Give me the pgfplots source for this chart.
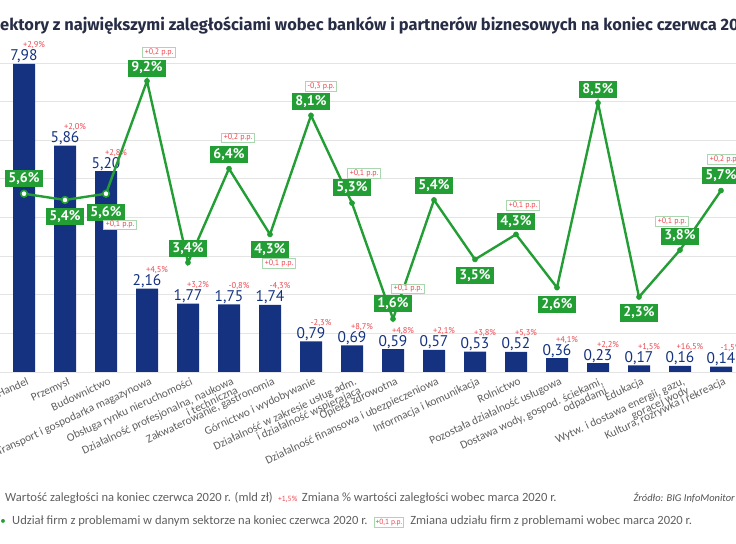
\documentclass[border=0pt]{standalone}
\usepackage{fontspec}
\setmainfont{Carlito}
\newfontfamily\numfont{PT Sans}
\newfontfamily\titlefont{Fira Sans}
\usepackage{pgfplots}
\pgfplotsset{compat=1.18}
\usepackage{pgfplotstable}

\definecolor{navy}{RGB}{20,50,128}
\definecolor{lgreen}{RGB}{34,158,52}
\definecolor{redann}{RGB}{236,72,80}
\definecolor{gridc}{RGB}{228,228,228}
\definecolor{ticktxt}{RGB}{95,95,95}
\definecolor{titlec}{RGB}{40,45,70}
\definecolor{boxborder}{RGB}{170,215,175}

\pgfplotstableread{
x val pct
0 7.98 +2,9
1 5.86 +2,0
2 5.20 +2,8
3 2.16 +4,5
4 1.77 +3,2
5 1.75 -0,8
6 1.74 -4,3
7 0.79 -2,3
8 0.69 +8,7
9 0.59 +4,8
10 0.57 +2,1
11 0.53 +3,8
12 0.52 +5,3
13 0.36 +4,1
14 0.23 +2,2
15 0.17 +1,5
16 0.16 +16,5
17 0.14 -1,5
}\bars

\pgfplotstableread{
x v dy
0 5.6 15
1 5.4 -17
2 5.6 -19
3 9.2 13
4 3.4 14
5 6.4 14
6 4.3 -15
7 8.1 14
8 5.3 16
9 1.6 15
10 5.4 14
11 3.5 -16
12 4.3 13
13 2.6 -17
14 8.5 13
15 2.3 -16
16 3.8 14
17 5.7 15
}\linedata

\pgfplotstableread{
x v dx dy lbl
2 5.6 14 -31 +0,1
3 9.2 12 29 +0,2
5 6.4 9 31 +0,2
6 4.3 9 -29 +0,1
7 8.1 10 29 -0,3
8 5.3 12 30 +0,1
9 1.6 15 30 +0,1
12 4.3 7 29 +0,1
16 3.8 -8 29 +0,1
17 5.7 3 31 +0,2
}\ppdata

\begin{document}
\begin{tikzpicture}
\begin{axis}[
  at={(0bp,172bp)}, anchor=south west,
  scale only axis, width=736bp, height=309bp,
  xmin=-0.5854, xmax=17.366, ymin=0, ymax=8,
  clip=false,
  axis line style={draw=none},
  ytick={0,1,...,8}, yticklabels={},
  ymajorgrids, grid style={gridc, line width=0.8bp},
  major tick length=0pt,
  xtick={0,...,17},
  xticklabels={{Handel},{Przemysł},{Budownictwo},{Transport i gospodarka magazynowa},{Obsługa rynku nieruchomości},{Działalność profesjonalna, naukowa\\ i techniczna},{Zakwaterowanie, gastronomia},{Górnictwo i wydobywanie},{Działalność w zakresie usług adm.\\ i działalność wspierająca},{Opieka zdrowotna},{Działalność finansowa i ubezpieczeniowa},{Informacja i komunikacja},{Rolnictwo},{Pozostała działalność usługowa},{Dostawa wody, gospod. ściekami,\\ odpadami},{Edukacja},{Wytw. i dostawa energii, gazu,\\ gorącej wody},{Kultura, rozrywka i rekreacja}},
  xticklabel style={rotate=25, anchor=north east, align=right, inner sep=1bp, yshift=-4bp, xshift=1bp,
    font=\fontsize{11.5}{10}\selectfont, text=ticktxt},
]
\addplot[ybar, bar width=22bp, fill=navy, draw=none,
  nodes near coords={\pgfmathprintnumber[fixed, fixed zerofill, precision=2, use comma, assume math mode=true]{\pgfplotspointmeta}},
  point meta=y,
  every node near coord/.append style={anchor=base, yshift=3bp, text=navy, inner sep=0pt,
    font=\numfont\fontsize{15.5}{15.5}\selectfont}]
  table[x=x, y=val]{\bars};
\addplot[draw=none, mark=none,
  nodes near coords={\pgfplotspointmeta\%},
  point meta=explicit symbolic,
  every node near coord/.append style={anchor=base, xshift=10bp, yshift=16bp, text=redann, inner sep=0pt,
    font=\numfont\fontsize{8.5}{8.5}\selectfont}]
  table[x=x, y=val, meta=pct]{\bars};
\end{axis}

\begin{axis}[
  at={(0bp,172bp)}, anchor=south west,
  scale only axis, width=736bp, height=309bp,
  xmin=-0.5854, xmax=17.366, ymin=-0.096, ymax=9.776,
  clip=false, hide axis,
]
\addplot[lgreen, line width=2.4bp, mark=*, mark size=2.6bp,
  mark options={solid, fill=lgreen, line width=0.4bp},
  nodes near coords={\pgfmathprintnumber[fixed, fixed zerofill, precision=1, use comma, assume math mode=true]{\pgfplotspointmeta}\%},
  point meta=y,
  visualization depends on={\thisrow{dy}\as\ddy},
  every node near coord/.append style={anchor=center, yshift=\ddy bp, fill=lgreen, text=white,
    inner xsep=3bp, inner ysep=2.5bp, font=\numfont\bfseries\fontsize{14}{14}\selectfont}]
  table[x=x, y=v]{\linedata};
\addplot[only marks, mark=*, mark size=3.3bp, restrict x to domain=0:2,
  mark options={fill=white, draw=lgreen, line width=1.6bp}]
  table[x=x, y=v]{\linedata};
\addplot[draw=none, mark=none,
  nodes near coords={\pgfplotspointmeta{} p.p.},
  point meta=explicit symbolic,
  visualization depends on={\thisrow{dx}\as\ddx},
  visualization depends on={\thisrow{dy}\as\ddy},
  every node near coord/.append style={anchor=center, xshift=\ddx bp, yshift=\ddy bp,
    draw=boxborder, line width=0.6bp, fill=white, text=redann, inner xsep=2bp, inner ysep=1.2bp,
    font=\numfont\fontsize{8}{8}\selectfont}]
  table[x=x, y=v, meta=lbl]{\ppdata};
\end{axis}

% title
\node[anchor=base west, inner sep=0, text=titlec, font=\titlefont\bfseries\fontsize{16.5}{16.5}\selectfont]
  at (0bp,513bp) {\llap{S}ektory z największymi zaległościami wobec banków i partnerów biznesowych na koniec czerwca 2020 r.};

% legend
\node (a1) [anchor=base west, inner sep=0, text=ticktxt, font=\fontsize{12.6}{13}\selectfont]
  at (5bp,42bp) {Wartość zaległości na koniec czerwca 2020 r. (mld zł)};
\node (a2) [anchor=base west, inner sep=0, text=redann, font=\numfont\fontsize{7.5}{8}\selectfont]
  at ([xshift=5bp]a1.base east) {+1,5\%};
\node (a3) [anchor=base west, inner sep=0, text=ticktxt, font=\fontsize{12.6}{13}\selectfont]
  at ([xshift=4bp]a2.base east) {Zmiana \% wartości zaległości wobec marca 2020 r.};
\node[anchor=base east, inner sep=0, text=ticktxt!85!black, font=\itshape\fontsize{10.5}{11}\selectfont]
  at (735bp,42bp) {Źródło: BIG InfoMonitor};

\node[anchor=base, inner sep=0, text=lgreen, font=\fontsize{11}{11}\selectfont]
  at (3bp,20bp) {•};
\node (b1) [anchor=base west, inner sep=0, text=ticktxt, font=\fontsize{12.6}{13}\selectfont]
  at (12bp,20bp) {Udział firm z problemami w danym sektorze na koniec czerwca 2020 r.};
\node (b2) [anchor=base west, draw=boxborder, line width=0.6bp, fill=white, text=redann, inner xsep=1.5bp, inner ysep=1.5bp,
  font=\numfont\fontsize{7.5}{8}\selectfont]
  at ([xshift=6bp]b1.base east) {+0,1 p.p.};
\node[anchor=base west, inner sep=0, text=ticktxt, font=\fontsize{12.6}{13}\selectfont]
  at ([xshift=6bp]b2.base east) {Zmiana udziału firm z problemami wobec marca 2020 r.};

\pgfresetboundingbox
\path[use as bounding box] (0,0) rectangle (736bp,544bp);
\end{tikzpicture}
\end{document}
